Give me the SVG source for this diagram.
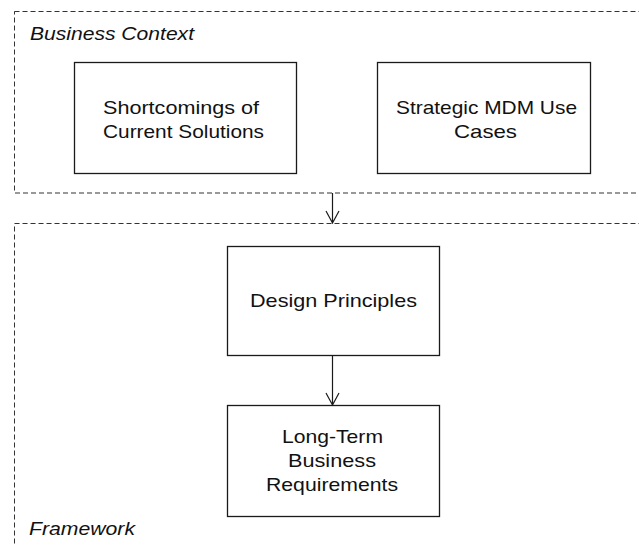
<svg xmlns="http://www.w3.org/2000/svg" width="639" height="546" viewBox="0 0 639 546">
<style>
.grp{fill:none;stroke:#333;stroke-width:1;stroke-dasharray:5 3}
.box{fill:#fff;stroke:#1a1a1a;stroke-width:1.3}
.t{font-family:"Liberation Sans",Arial,sans-serif;font-size:18.5px;fill:#111}
.it{font-style:italic}
.conn{fill:none;stroke:#1a1a1a;stroke-width:1.2}
</style>
<rect width="639" height="546" fill="#fff"/>
<g id="business-context">
<rect class="grp" x="14.5" y="11.5" width="640" height="181.5"/>
<text class="t it" x="30" y="40" textLength="164" lengthAdjust="spacingAndGlyphs">Business Context</text>
</g>
<g id="framework">
<rect class="grp" x="14.5" y="223.5" width="640" height="340"/>
<text class="t it" x="29" y="535" textLength="106" lengthAdjust="spacingAndGlyphs">Framework</text>
</g>
<g id="shortcomings">
<rect class="box" x="74.5" y="62.5" width="222" height="111"/>
<text class="t" x="103" y="114" textLength="156" lengthAdjust="spacingAndGlyphs">Shortcomings of</text>
<text class="t" x="103" y="138" textLength="161" lengthAdjust="spacingAndGlyphs">Current Solutions</text>
</g>
<g id="strategic">
<rect class="box" x="377.5" y="62.5" width="213" height="111"/>
<text class="t" x="396" y="114" textLength="181" lengthAdjust="spacingAndGlyphs">Strategic MDM Use</text>
<text class="t" x="454" y="138" textLength="63" lengthAdjust="spacingAndGlyphs">Cases</text>
</g>
<g id="design-principles">
<rect class="box" x="227.5" y="246.5" width="212" height="109"/>
<text class="t" x="250" y="307" textLength="167" lengthAdjust="spacingAndGlyphs">Design Principles</text>
</g>
<g id="long-term">
<rect class="box" x="227.5" y="405.5" width="212" height="111"/>
<text class="t" x="282" y="443" textLength="101" lengthAdjust="spacingAndGlyphs">Long-Term</text>
<text class="t" x="288" y="467" textLength="88" lengthAdjust="spacingAndGlyphs">Business</text>
<text class="t" x="266" y="491" textLength="132" lengthAdjust="spacingAndGlyphs">Requirements</text>
</g>
<g id="connectors">
<path class="conn" d="M332.5 193 V223 M326 211 L332.5 223 L339 211"/>
<path class="conn" d="M332.5 356 V405 M326 393 L332.5 405 L339 393"/>
</g>
</svg>
